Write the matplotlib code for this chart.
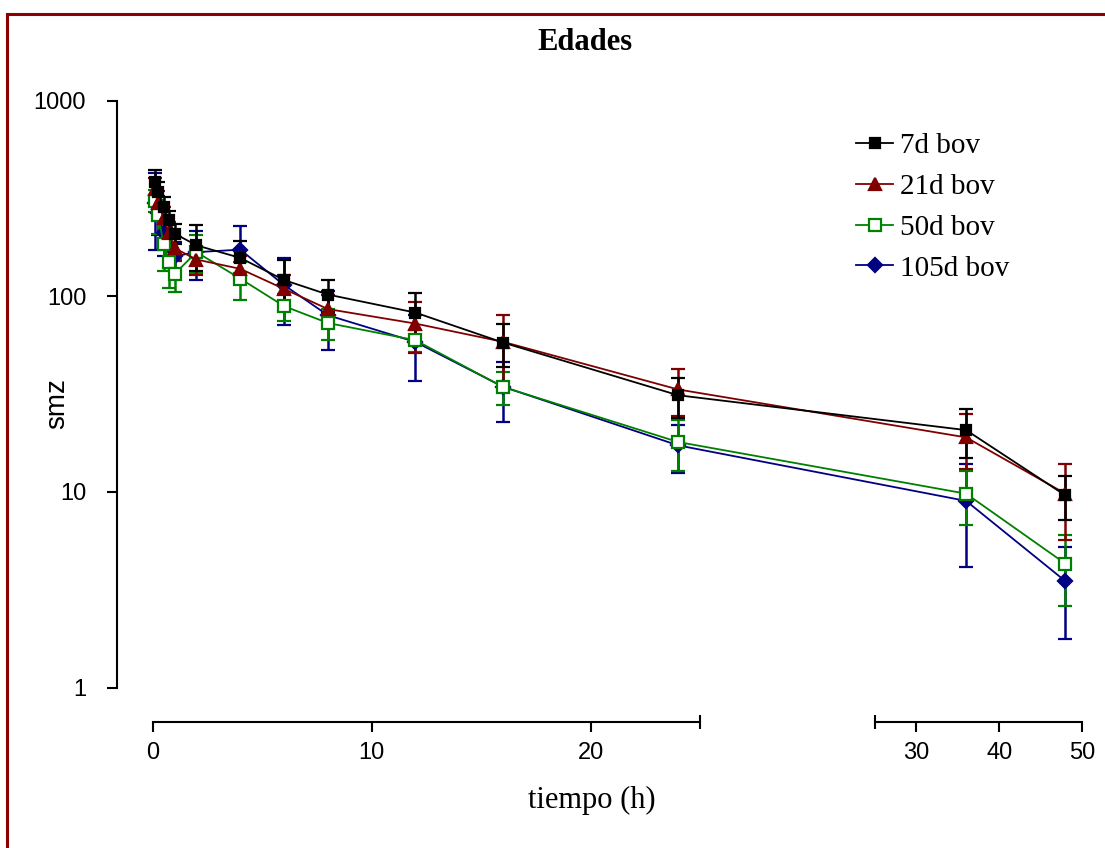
import numpy as np
import matplotlib
matplotlib.use("Agg")
import matplotlib.pyplot as plt
from matplotlib.patches import Rectangle

# sampling times (h) and mean +/- sd per age group
times = [0.083, 0.25, 0.5, 0.75, 1, 2, 4, 6, 8, 12, 16, 24, 36, 48]

mean_7d = [383, 340, 285, 244, 209, 182, 157, 121, 102, 82.5, 58, 31.2, 20.7, 9.6]
sd_7d = [60, 45, 35, 30, 25, 48, 34, 33, 19, 21, 14.5, 7.2, 5.8, 2.4]

mean_21d = [354, 298, 250, 210, 176, 154, 138, 109, 86, 72.5, 58.5, 33.4, 19.0, 9.8]
sd_21d = [50, 45, 35, 30, 25, 25, 22, 20, 15, 21, 22, 9, 5.9, 4.1]

mean_50d = [308, 259, 185, 150, 130, 168, 123, 89, 73, 59.6, 34.4, 18.0, 9.8, 4.3]
sd_50d = [40, 50, 50, 40, 25, 37, 27, 14, 13, 8, 6.6, 5.2, 3.0, 1.7]

mean_105d = [300, 265, 210, 180, 160, 168, 173, 114, 80, 58.4, 34.5, 17.3, 9.0, 3.5]
sd_105d = [127, 60, 50, 40, 30, 47, 55, 43, 26.6, 21.5, 11.7, 4.8, 4.85, 1.73]

labels = ["7d bov", "21d bov", "50d bov", "105d bov"]

W, H = 1105, 848
SERIF = ["Liberation Serif", "DejaVu Serif"]
SANS = ["Liberation Sans", "DejaVu Sans"]

# broken x axis: 0-25 h wide, gap, 25-50 h compressed
BREAK = 25.0
GAP = 8.0
RIGHT_RATIO = 0.378


def fwd(x):
    x = np.asarray(x, dtype=float)
    return np.where(x <= BREAK, x, BREAK + GAP + (x - BREAK) * RIGHT_RATIO)


def inv(y):
    y = np.asarray(y, dtype=float)
    return np.where(y <= BREAK, y,
                    np.where(y <= BREAK + GAP, BREAK, BREAK + (y - BREAK - GAP) / RIGHT_RATIO))


def px(x0, y0, x1, y1):
    # pixel box (top-left origin) -> figure fraction rect
    return [x0 / W, 1 - y1 / H, (x1 - x0) / W, (y1 - y0) / H]


fig = plt.figure(figsize=(W / 100, H / 100), dpi=100)

ax = fig.add_axes(px(152.7, 100.5, 1082, 687.7))
ax.set_xscale("function", functions=(fwd, inv))
ax.set_yscale("log")
ax.set_xlim(0, 50)
ax.set_ylim(1, 1000)

series = [
    (mean_105d, sd_105d, "#000080", "D", "#000080", 7),
    (mean_50d, sd_50d, "#008000", "s", "white", 9),
    (mean_21d, sd_21d, "#800000", "^", "#800000", 9),
    (mean_7d, sd_7d, "black", "s", "black", 7.5),
]
handles = {}
for (m, sd, col, mk, fc, ms), lab in zip(series, labels[::-1]):
    m = np.array(m)
    sd = np.array(sd)
    low = np.minimum(sd, m * 0.999)
    cont = ax.errorbar(times, m, yerr=[low, sd], color=col, marker=mk, ms=ms,
                       mfc=fc, mec=col, mew=1.6, lw=1.3, elinewidth=1.8,
                       capsize=4.8, capthick=1.8, clip_on=False)
    for art in cont.get_children():
        art.set_clip_on(False)
    handles[lab] = cont[0]

ax.spines["top"].set_visible(False)
ax.spines["right"].set_visible(False)
ax.spines["bottom"].set_visible(False)
ax.spines["left"].set_position(("outward", 25.7))
ax.spines["left"].set_linewidth(1.5)
ax.set_xticks([])
ax.set_yticks([1, 10, 100, 1000])
ax.set_yticklabels(["1", "10", "100", "1000"])
ax.yaxis.set_minor_locator(matplotlib.ticker.NullLocator())
ax.tick_params(axis="y", direction="out", length=7.2, width=1.5, pad=15, labelsize=17)
for t in ax.get_yticklabels():
    t.set_family(SANS)
ax.patch.set_visible(False)

# the two visible x-axis segments
segments = [((152.7, 700), (0, 25), [0, 10, 20]),
            ((875, 1082), (25, 50), [30, 40, 50])]
for (x0, x1), lim, ticks in segments:
    axs = fig.add_axes(px(x0, 721, x1, 722))
    axs.set_xlim(*lim)
    axs.patch.set_visible(False)
    for s in ["top", "left", "right"]:
        axs.spines[s].set_visible(False)
    axs.spines["bottom"].set_linewidth(1.5)
    axs.set_yticks([])
    axs.set_xticks(ticks)
    axs.set_xticklabels([str(t) for t in ticks])
    axs.set_xticks([BREAK], minor=True)
    axs.tick_params(axis="x", which="major", direction="out", length=7.5, width=1.5,
                    pad=7, labelsize=17)
    axs.tick_params(axis="x", which="minor", direction="inout", length=9.5, width=1.5)
    for t in axs.get_xticklabels():
        t.set_family(SANS)

leg = ax.legend([handles[l] for l in labels], labels, loc="upper left",
                bbox_to_anchor=(856 / W, 1 - 133 / H), bbox_transform=fig.transFigure,
                frameon=False, prop={"family": SERIF, "size": 21},
                handlelength=1.27, handletextpad=0.24, labelspacing=0.49,
                borderaxespad=0, borderpad=0)

fig.text(585 / W, 1 - 43 / H, "Edades", ha="center", va="center",
         family=SERIF, fontweight="bold", fontsize=22)
fig.text(592 / W, 1 - 800 / H, "tiempo (h)", ha="center", va="center",
         family=SERIF, fontsize=22)
fig.text(57 / W, 1 - 404 / H, "smz", ha="center", va="center", rotation=90,
         family=SANS, fontsize=20)

# dark red frame, running off the right and bottom edges
fig.patches.append(Rectangle((7 / W, -0.2), 2, 1.2 - 14 / H, fill=False,
                             ec="#8B0000", lw=2.2, transform=fig.transFigure, figure=fig))

fig.savefig("out.png", dpi=100)
